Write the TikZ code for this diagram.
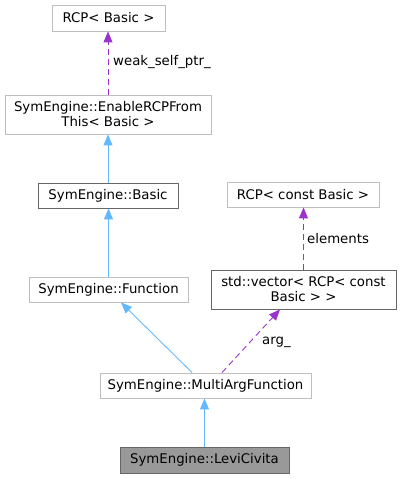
\documentclass[tikz,border=0pt]{standalone}
\usepackage{fontspec}
\setmainfont{DejaVu Sans}
\usetikzlibrary{calc,arrows.meta}
\definecolor{edgeblue}{HTML}{63B8FF}
\definecolor{edgepurple}{HTML}{9A32CD}
\definecolor{lightborder}{HTML}{BFBFBF}
\definecolor{darkborder}{HTML}{404040}
\begin{document}
\begin{tikzpicture}[x=1pt,y=1pt,
  every node/.style={font=\fontsize{13.3}{15}\selectfont, inner sep=0pt, align=center},
  cls/.style={draw=lightborder, fill=white, line width=0.9pt, minimum height=25pt},
  clsdark/.style={draw=darkborder!80, fill=white, line width=0.9pt, minimum height=25pt},
  clscur/.style={draw=darkborder!80, fill=black!40, line width=0.9pt, minimum height=26pt},
  inherit/.style={draw=edgeblue, line width=0.9pt, -{Triangle[length=11pt,width=9pt]}},
  usage/.style={draw=edgepurple, line width=0.9pt, dash pattern=on 6pt off 4pt, -{Triangle[length=11pt,width=9pt]}},
  lbl/.style={anchor=west, fill=white, inner sep=1pt}
]
\useasboundingbox (0,0) rectangle (400,479);
\node[cls, minimum width=113pt, minimum height=26pt] (rcpb) at (108.5,461) {RCP< Basic >};
\node[cls, minimum width=206pt, minimum height=39pt] (enable) at (108,364.5) {SymEngine::EnableRCPFrom\\This< Basic >};
\node[clsdark, minimum width=140pt] (basic) at (108,283.5) {SymEngine::Basic};
\node[cls, minimum width=152pt] (rcpc) at (303,284.5) {RCP< const Basic >};
\node[clsdark, minimum width=185pt, minimum height=39pt] (vec) at (303.5,189.5) {std::vector< RCP< const\\Basic > >};
\node[cls, minimum width=159pt] (func) at (108.5,189.5) {SymEngine::Function};
\node[cls, minimum width=211pt] (multi) at (205.5,93.5) {SymEngine::MultiArgFunction};
\node[clscur, minimum width=169pt] (levi) at (204.5,19) {SymEngine::LeviCivita};

\draw[usage] (enable.north) -- (rcpb.south -| enable.north);
\node[lbl] (l1) at (112,417) {weak\_self\_ptr\_};
\draw[inherit] (basic.north) -- (enable.south);
\draw[inherit] (func.north) -- (basic.south -| func.north);
\draw[inherit] ($(multi.north)+(-13.5,0)$) -- ($(func.south)+(12.5,0)$);
\draw[usage] ($(multi.north)+(16.5,0)$) -- ($(vec.south)+(-23.5,0)$);
\node[lbl] (l2) at (261,137) {arg\_};
\draw[usage] (vec.north) -- (rcpc.south -| vec.north);
\node[lbl] (l3) at (306,240) {elements};
\draw[inherit] (levi.north) -- (levi.north |- multi.south);
\end{tikzpicture}
\end{document}
